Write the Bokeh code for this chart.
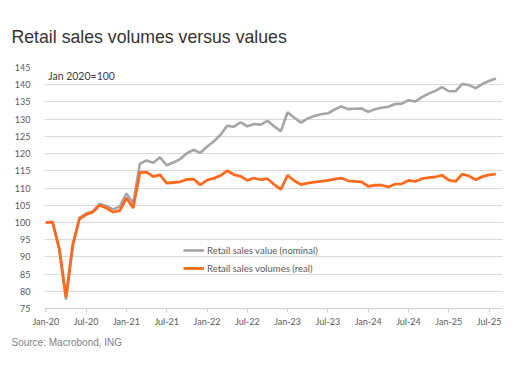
from bokeh.plotting import figure
from bokeh.models import Label, Legend, LegendItem, FixedTicker, Range1d, Title
from bokeh.embed import file_html
from bokeh.resources import INLINE

# ---- data (monthly, Jan 2020 = 100) ----
months = list(range(68))  # Jan 2020 .. Aug 2025
value_nominal = [
    100.0, 100.2, 92.0, 77.6, 93.0, 101.3, 102.6, 103.2, 105.4, 104.8, 103.8, 104.6,
    108.4, 105.6, 117.0, 118.0, 117.3, 118.9, 116.6, 117.4, 118.4, 120.1, 121.1, 120.2,
    122.0, 123.5, 125.4, 128.1, 127.8, 129.1, 127.9, 128.6, 128.4, 129.5, 127.9, 126.5,
    132.0, 130.4, 129.0, 130.2, 130.9, 131.4, 131.7, 132.8, 133.7, 132.9, 133.0, 133.1,
    132.1, 132.9, 133.3, 133.6, 134.4, 134.5, 135.5, 135.1, 136.4, 137.4, 138.2, 139.3,
    138.1, 138.1, 140.2, 139.9, 139.0, 140.2, 141.1, 141.8,
]
volume_real = [
    100.0, 100.0, 92.5, 78.3, 93.5, 101.0, 102.3, 103.0, 105.0, 104.2, 103.0, 103.4,
    107.1, 104.2, 114.5, 114.6, 113.3, 113.8, 111.4, 111.6, 111.8, 112.5, 112.6, 110.9,
    112.3, 112.8, 113.6, 115.0, 113.9, 113.4, 112.2, 112.9, 112.4, 112.7, 111.0, 109.6,
    113.7, 112.1, 111.0, 111.4, 111.7, 111.9, 112.2, 112.6, 112.9, 112.1, 111.9, 111.8,
    110.5, 110.8, 110.8, 110.3, 111.1, 111.2, 112.2, 111.9, 112.7, 113.0, 113.2, 113.7,
    112.3, 111.9, 114.0, 113.5, 112.4, 113.3, 113.8, 114.0,
]
tick_positions = [0, 6, 12, 18, 24, 30, 36, 42, 48, 54, 60, 66]
tick_labels = ["Jan-20", "Jul-20", "Jan-21", "Jul-21", "Jan-22", "Jul-22",
               "Jan-23", "Jul-23", "Jan-24", "Jul-24", "Jan-25", "Jul-25"]
y_ticks = [75, 80, 85, 90, 95, 100, 105, 110, 115, 120, 125, 130, 135, 140, 145]

series_names = ["Retail sales value (nominal)", "Retail sales volumes (real)"]
title_text = "Retail sales volumes versus values"
source_text = "Source: Macrobond, ING"
base_text = "Jan 2020=100"

GREY = "#a5a5a5"
ORANGE = "#ff6a1f"
AX_FONT = "Lato"

p = figure(width=525, height=376, output_backend="svg", toolbar_location=None,
           x_range=Range1d(-0.2, 68.0), y_range=Range1d(75, 145),
           min_border_left=44, min_border_right=23, min_border_top=67, min_border_bottom=68)
p.outline_line_color = None
p.background_fill_color = "white"
p.border_fill_color = "white"

r1 = p.line(months, value_nominal, line_color=GREY, line_width=2.6)
r2 = p.line(months, volume_real, line_color=ORANGE, line_width=2.8)

# axes
p.xaxis.ticker = FixedTicker(ticks=tick_positions)
p.xaxis.major_label_overrides = {t: l for t, l in zip(tick_positions, tick_labels)}
p.xaxis.axis_line_color = "#d0d0d0"
p.xaxis.major_tick_line_color = "#d0d0d0"
p.xaxis.major_tick_in = 0
p.xaxis.major_tick_out = 4
p.xaxis.minor_tick_line_color = None
p.xaxis.major_label_text_font = AX_FONT
p.xaxis.major_label_text_font_size = "9px"
p.xaxis.major_label_text_color = "#595959"
p.xaxis.major_label_standoff = 3

p.yaxis.ticker = FixedTicker(ticks=y_ticks)
p.yaxis.axis_line_color = None
p.yaxis.major_tick_line_color = None
p.yaxis.minor_tick_line_color = None
p.yaxis.major_label_text_font = AX_FONT
p.yaxis.major_label_text_font_size = "9px"
p.yaxis.major_label_text_color = "#595959"
p.yaxis.major_label_standoff = 8

p.xgrid.grid_line_color = None
p.ygrid.ticker = FixedTicker(ticks=y_ticks)
p.ygrid.grid_line_color = "#d9d9d9"
p.ygrid.grid_line_width = 1

# legend (tuple location = bottom-left corner, px from the frame's bottom-left)
legend = Legend(items=[LegendItem(label=series_names[0], renderers=[r1]),
                       LegendItem(label=series_names[1], renderers=[r2])],
                location=(139, 33), orientation="vertical",
                background_fill_alpha=0, border_line_color=None,
                padding=0, margin=0, spacing=4,
                glyph_width=21, glyph_height=14, label_height=14,
                label_standoff=3, label_text_font=AX_FONT,
                label_text_font_size="9.5px", label_text_color="#595959")
p.add_layout(legend)

# title and source
p.title = Title(text=title_text, align="left", offset=-33, standoff=42,
                text_font="Liberation Sans", text_font_size="17.7px",
                text_font_style="normal", text_color="#333333")
p.add_layout(Title(text=source_text, align="left", offset=-33, standoff=10,
                   text_font="Liberation Sans", text_font_size="10px",
                   text_font_style="normal", text_color="#7f7f7f"), "below")

p.add_layout(Label(x=0.35, y=142.4, text=base_text,
                   text_font=AX_FONT, text_font_size="10.5px",
                   text_color="#404040", text_baseline="middle", text_align="left"))

open("out.html", "w").write(file_html(p, INLINE))
